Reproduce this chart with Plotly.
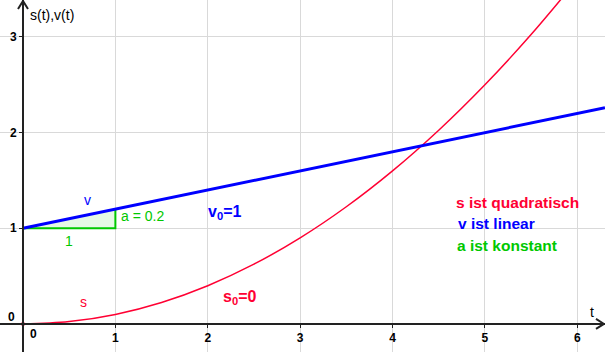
import plotly.graph_objects as go

# data
t_s = [0, 0.5, 1, 1.5, 2, 2.5, 3, 3.5, 4, 4.5, 5, 5.5, 6]
s_vals = [0, 0.025, 0.1, 0.225, 0.4, 0.625, 0.9, 1.225, 1.6, 2.025, 2.5, 3.025, 3.6]
t_v = [0, 6.3]
v_vals = [1, 2.26]
tri_t = [0, 1, 1, 0]
tri_y = [1, 1, 1.2, 1]
x_ticks = [1, 2, 3, 4, 5, 6]
y_ticks = [1, 2, 3]

XR = [-0.249, 6.30]
YR = [-0.293, 3.386]
W, H = 605, 352

RED = "#FF0033"
BLUE = "#0000FF"
GREEN = "#00C800"
FONT = "Liberation Sans, Arial, sans-serif"

fig = go.Figure()
# shaded slope triangle
fig.add_trace(go.Scatter(x=tri_t, y=tri_y, fill="toself", fillcolor="rgba(0,200,0,0.1)",
                         line=dict(width=0), mode="lines", hoverinfo="skip"))
# green legs
fig.add_trace(go.Scatter(x=[tri_t[0], tri_t[1], tri_t[2]], y=[tri_y[0], tri_y[1], tri_y[2]],
                         mode="lines", line=dict(color=GREEN, width=2)))
# s(t)
fig.add_trace(go.Scatter(x=t_s, y=s_vals, mode="lines", line=dict(color=RED, width=1.5, shape="spline")))
# v(t)
fig.add_trace(go.Scatter(x=t_v, y=v_vals, mode="lines", line=dict(color=BLUE, width=3)))
# origin point
fig.add_trace(go.Scatter(x=[0], y=[0], mode="markers", marker=dict(color=RED, size=4)))

x0p = (0 - XR[0]) / (XR[1] - XR[0])
y0p = (0 - YR[0]) / (YR[1] - YR[0])

fig.update_layout(
    width=W, height=H, margin=dict(l=0, r=0, t=0, b=0),
    paper_bgcolor="white", plot_bgcolor="white", showlegend=False,
    xaxis=dict(range=XR, tickvals=x_ticks, ticktext=[str(v) for v in x_ticks],
               showgrid=True, gridcolor="#D9D9D9", gridwidth=1, zeroline=False,
               showline=True, linecolor="#222", linewidth=2, anchor="free", position=y0p,
               ticks="outside", ticklen=3, tickcolor="#222",
               tickfont=dict(family=FONT, size=12, color="black", weight="bold")),
    yaxis=dict(range=YR, tickvals=y_ticks, ticktext=[str(v) for v in y_ticks],
               showgrid=True, gridcolor="#D9D9D9", gridwidth=1, zeroline=False,
               showline=True, linecolor="#222", linewidth=2, anchor="free", position=x0p,
               ticks="outside", ticklen=3, tickcolor="#222",
               tickfont=dict(family=FONT, size=12, color="black", weight="bold")),
)

def px2paper_x(px):
    return px / W

def px2paper_y(py):
    return 1 - py / H

ax_px = x0p * W
ay_py = (1 - y0p) * H

# arrowheads
fig.add_shape(type="path", xref="paper", yref="paper",
              path=f"M {px2paper_x(ax_px-5)} {px2paper_y(9)} L {px2paper_x(ax_px)} {px2paper_y(1)} L {px2paper_x(ax_px+5)} {px2paper_y(9)}",
              line=dict(color="#222", width=2))
fig.add_shape(type="path", xref="paper", yref="paper",
              path=f"M {px2paper_x(W-9)} {px2paper_y(ay_py-5)} L {px2paper_x(W-1)} {px2paper_y(ay_py)} L {px2paper_x(W-9)} {px2paper_y(ay_py+5)}",
              line=dict(color="#222", width=2))

def ann(x, y, text, color, size=14, xanchor="left", bold=False, xref="x", yref="y"):
    fig.add_annotation(x=x, y=y, xref=xref, yref=yref, text=text, showarrow=False,
                       xanchor=xanchor, yanchor="middle",
                       font=dict(family=FONT, size=size, color=color, weight="bold" if bold else "normal"))

# zero labels
ann(0.05, -0.11, "0", "black", size=12, bold=True)
ann(-0.07, 0.07, "0", "black", size=12, bold=True, xanchor="right")
# axis labels
ann(px2paper_x(28), px2paper_y(15), "s(t),v(t)", "black", size=14, xref="paper", yref="paper")
ann(px2paper_x(588), px2paper_y(312), "t", "black", size=14, xref="paper", yref="paper")
# curve labels
ann(0.7, 1.3, "v", BLUE, size=14, xanchor="center")
ann(0.65, 0.23, "s", RED, size=14, xanchor="center")
ann(0.5, 0.87, "1", GREEN, size=14, xanchor="center")
ann(1.04, 1.13, "a = 0.2", GREEN, size=14)
ann(1.98, 1.17, "v<sub>0</sub>=1", BLUE, size=16, bold=True)
ann(2.14, 0.28, "s<sub>0</sub>=0", RED, size=16, bold=True)
ann(4.67, 1.27, "s ist quadratisch", RED, size=15.5, bold=True)
ann(4.69, 1.05, "v ist linear", BLUE, size=15.5, bold=True)
ann(4.68, 0.82, "a ist konstant", GREEN, size=15.5, bold=True)

fig.write_html("out.html")
